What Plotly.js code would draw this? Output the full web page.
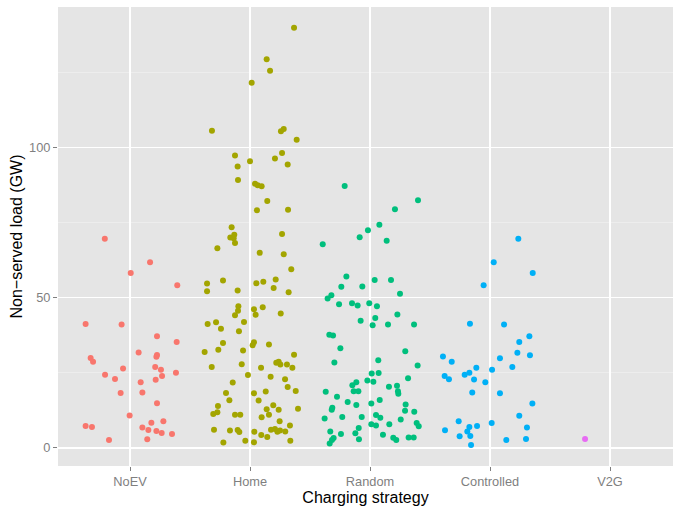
<!DOCTYPE html>
<html>
<head>
<meta charset="utf-8">
<script src="https://cdn.plot.ly/plotly-3.0.1.min.js"></script>
<style>html,body{margin:0;padding:0;background:#fff;}#chart{width:673px;height:506px;}</style>
</head>
<body>
<div id="chart"></div>
<script>
var categories = ["NoEV", "Home", "Random", "Controlled", "V2G"];
var colors = ["#F8766D", "#A3A500", "#00BF7D", "#00B0F6", "#E76BF3"];

var noevValues = [69.7,61.9,58.3,54.2,41.3,41.1,37.2,35.3,30.0,28.7,31.8,31.0,30.4,26.5,27.0,26.1,25.1,24.4,23.0,24.0,21.9,22.7,18.3,18.5,14.9,10.8,7.3,7.0,8.4,8.9,6.8,6.0,5.7,5.0,4.7,2.7,2.9];
var noevJitter = [-0.21,0.167,0.006,0.394,-0.37,-0.07,0.225,0.389,-0.328,-0.308,0.072,0.225,0.22,-0.058,0.21,0.258,0.383,-0.208,-0.125,0.267,0.089,0.214,-0.078,0.103,0.225,-0.003,-0.37,-0.317,0.178,0.278,0.103,0.153,0.22,0.264,0.35,-0.175,0.144];

var homeValues = [140.0,129.5,125.7,121.7,105.7,105.5,106.3,102.7,97.4,98.3,95.5,96.4,94.4,93.8,89.3,88.0,87.5,87.2,82.3,79.2,79.4,73.5,
  71.0,70.1,69.9,68.3,71.3,66.5,65.0,64.5,59.5,54.8,55.8,54.9,55.4,56.1,52.2,52.5,53.3,51.9,47.2,45.7,44.2,46.2,44.4,46.9,44.8,
  41.3,41.9,42.0,39.7,38.9,35.0,35.2,34.2,34.5,32.0,32.7,32.5,31.1,27.0,27.9,26.7,28.4,28.7,27.8,27.8,26.7,24.3,23.7,22.9,21.8,
  20.3,18.3,18.2,18.8,19.0,15.9,15.8,14.0,11.3,11.9,11.1,11.1,12.9,14.2,12.7,11.1,10.2,13.1,8.9,7.5,6.1,5.8,6.0,5.3,5.4,6.1,6.3,
  5.4,5.8,5.5,4.3,3.7,1.8,2.4,1.9,2.4];
var homeJitter = [0.367,0.139,0.167,0.014,-0.317,0.258,0.281,0.389,-0.125,0.267,0,0.208,0.314,-0.103,-0.1,0.042,0.064,0.097,0.144,0.058,0.317,-0.153,
  -0.131,-0.164,-0.136,-0.125,0.267,-0.272,0.081,0.281,0.344,-0.358,-0.225,0.053,0.111,0.214,-0.358,-0.103,0.197,0.322,-0.097,-0.1,-0.125,0.033,0.047,0.106,0.256,
  -0.353,-0.283,-0.05,-0.242,-0.092,-0.225,0.033,0.022,0.158,-0.378,-0.264,-0.058,0.367,-0.319,-0.069,0.092,0.219,0.239,0.253,0.308,0.353,-0.017,0.172,0.292,-0.144,
  0.314,-0.2,0.033,0.131,0.381,-0.172,0.072,-0.267,-0.306,-0.272,-0.125,-0.081,0.139,0.194,0.239,0.158,0.097,0.4,0.247,0.333,-0.3,-0.167,-0.103,-0.089,0.036,0.175,0.208,
  0.228,0.25,0.294,0.094,0.144,-0.222,-0.039,0.033,0.336];

var randomValues = [87.3,82.5,79.5,74.4,72.5,70.2,69.0,67.9,57.1,56.0,56.0,53.7,53.8,51.4,50.9,49.8,47.9,48.2,47.5,48.2,47.2,
  42.4,43.3,40.9,44.5,41.1,41.1,37.7,37.5,33.2,32.2,28.5,29.2,27.5,24.8,25.0,23.2,22.5,22.1,21.9,20.9,20.4,20.7,18.9,18.1,18.9,18.9,
  18.7,17.1,15.3,14.3,14.8,16.0,14.5,13.4,12.7,12.4,12.1,9.8,10.3,10.3,11.0,10.1,9.5,7.9,7.5,7.9,8.3,7.2,6.7,5.5,4.7,4.9,4.4,3.4,2.7,
  3.5,3.5,2.9,3.3,2.7,1.5];
var randomJitter = [-0.211,0.4,0.208,0.078,-0.017,-0.086,0.139,-0.394,-0.197,0.039,0.175,-0.239,-0.064,0.25,-0.322,-0.353,-0.258,-0.15,-0.103,-0.006,0.058,
  -0.078,0.044,0.022,0.228,0.15,0.367,-0.339,-0.308,-0.247,0.294,-0.297,0.069,0.397,0.014,0.072,0.317,-0.022,0.028,-0.114,-0.147,0.158,0.225,0.233,0.236,-0.136,-0.097,
  -0.369,-0.275,-0.186,-0.114,0.011,0.081,0.297,-0.314,-0.319,0.292,0.369,-0.378,-0.231,-0.069,0.05,0.086,0.256,0.011,0.05,0.161,0.389,0.406,-0.094,-0.331,-0.242,-0.122,0.108,0.194,0.219,
  0.322,0.364,-0.092,-0.303,-0.317,-0.336];

var controlledValues = [69.7,61.9,58.3,54.2,41.4,41.1,37.2,35.3,30.5,28.7,29.9,31.7,30.9,26.7,27.0,26.1,24.0,22.9,24.4,25.1,22.8,21.9,18.5,18.2,14.8,10.7,8.9,8.3,5.9,7.0,7.3,5.5,6.8,3.9,4.0,2.7,3.0,1.0];
var controlledJitter = [0.236,0.031,0.356,-0.053,-0.167,0.117,0.328,0.244,-0.392,-0.319,0.083,0.228,0.333,-0.114,0.186,0.017,-0.378,-0.342,-0.211,-0.172,-0.133,-0.039,-0.148,0.083,0.353,0.244,-0.261,0.014,-0.375,-0.172,-0.108,-0.189,0.308,-0.253,-0.164,0.136,0.3,-0.158];

var v2gValues = [3.0];
var v2gJitter = [-0.208];

var seriesValues = [noevValues, homeValues, randomValues, controlledValues, v2gValues];
var seriesJitter = [noevJitter, homeJitter, randomJitter, controlledJitter, v2gJitter];

var traces = categories.map(function (cat, i) {
  return {
    type: "scatter",
    mode: "markers",
    name: cat,
    x: seriesJitter[i].map(function (j) { return i + j; }),
    y: seriesValues[i],
    marker: { color: colors[i], size: 6, line: { width: 0 } },
    hoverinfo: "skip"
  };
});

var layout = {
  width: 673,
  height: 506,
  margin: { l: 58, r: 0, t: 7, b: 40 },
  paper_bgcolor: "#ffffff",
  plot_bgcolor: "#E5E5E5",
  showlegend: false,
  font: { family: "Liberation Sans, Arial, sans-serif" },
  xaxis: {
    range: [-0.6, 4.525],
    tickmode: "array",
    tickvals: categories.map(function (c, i) { return i; }),
    ticktext: categories,
    showgrid: true,
    gridcolor: "#ffffff",
    gridwidth: 1.2,
    zeroline: false,
    showline: false,
    ticks: "outside",
    ticklen: 4,
    tickwidth: 1,
    tickcolor: "#7f7f7f",
    tickfont: { size: 12.8, color: "#7f7f7f" },
    title: { text: "Charging strategy", font: { size: 16, color: "#000000" }, standoff: 1 }
  },
  yaxis: {
    range: [-6.0, 146.9],
    tickmode: "array",
    tickvals: [0, 50, 100],
    ticktext: ["0", "50", "100"],
    showgrid: true,
    gridcolor: "#ffffff",
    gridwidth: 1.2,
    minor: { tickmode: "array", tickvals: [25, 75, 125], showgrid: true, gridcolor: "#F2F2F2", gridwidth: 0.6, ticks: "" },
    zeroline: false,
    showline: false,
    ticks: "outside",
    ticklen: 4,
    tickwidth: 1,
    tickcolor: "#7f7f7f",
    tickfont: { size: 12.8, color: "#7f7f7f" },
    title: { text: "Non\u2212served load (GW)", font: { size: 16, color: "#000000" }, standoff: 2 }
  }
};

Plotly.newPlot("chart", traces, layout, { displayModeBar: false, staticPlot: true });
</script>
</body>
</html>
